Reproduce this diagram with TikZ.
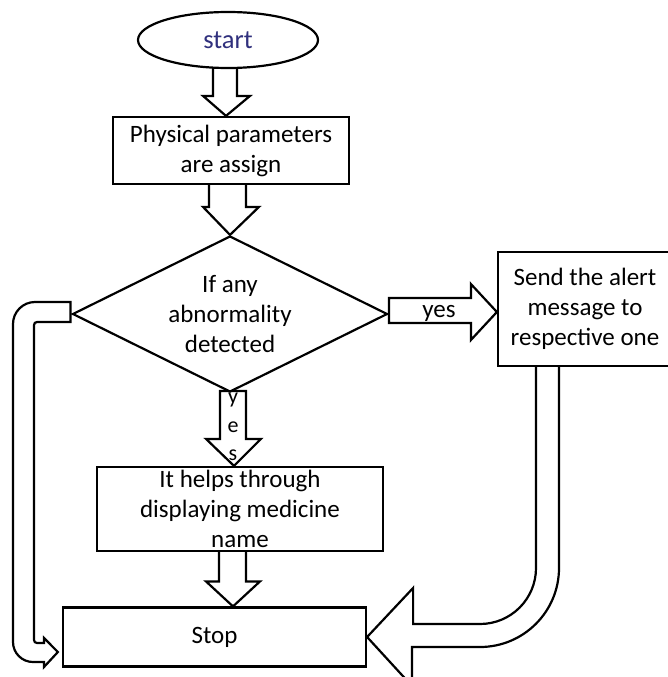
\documentclass[tikz,border=0pt]{standalone}
\usepackage{fontspec}
\setmainfont{Carlito}
\usetikzlibrary{shapes.geometric,calc}
\pgfdeclarelayer{bg}
\pgfsetlayers{bg,main}
\definecolor{startblue}{RGB}{48,48,125}
\tikzset{
  every picture/.style={x=1pt,y=1pt},
  boxnode/.style={draw=black,line width=2.2pt,fill=white,inner sep=0pt,align=center,
    font=\fontsize{25}{30}\selectfont},
  blk/.style={draw=black,line width=2.2pt,fill=white,line join=miter},
  lbl/.style={inner sep=0pt,font=\fontsize{25}{30}\selectfont},
}
\begin{document}
\begin{tikzpicture}[x=1pt,y=1pt]
\useasboundingbox (0,0) rectangle (668,-677);
% nodes
\node[boxnode,ellipse,minimum width=180,minimum height=56,text=startblue,
  font=\fontsize{26.5}{30}\selectfont] (start) at (228,-40) {start};
\node[boxnode,minimum width=236,minimum height=67] (params) at (231,-150.5)
  {Physical parameters\\are assign};
\node[boxnode,diamond,aspect=2,minimum width=315,minimum height=156] (decision) at (230,-314)
  {If any\\abnormality\\detected};
\node[boxnode,minimum width=174,minimum height=114] (alert) at (585,-309)
  {Send the alert\\message to\\respective one};
\node[boxnode,minimum width=286,minimum height=84] (help) at (240,-509)
  {It helps through\\displaying medicine\\name};
\node[boxnode,minimum width=303,minimum height=59] (stop) at (214.5,-637) {Stop};
% block arrows behind the nodes
\begin{pgfonlayer}{bg}
% start -> params
\draw[blk] ($(params.north)+(-5,0)$) coordinate (t1) -- ++(-23,20) -- ++(10,0) -- ++(0,37)
  -- ++(24,0) -- ++(0,-37) -- ++(13,0) -- cycle;
% params -> decision
\draw[blk] (decision.north) -- ++(-27,28) -- ++(6,0) -- ++(0,30) -- ++(37,0)
  -- ++(0,-30) -- ++(13,0) -- cycle;
% decision -> alert (yes)
\draw[blk] ($(alert.west)+(0,-3)$) coordinate (t3) -- ++(-26,28) -- ++(0,-14) -- ++(-82,0)
  -- ++(0,-25) -- ++(82,0) -- ++(0,-17) -- cycle;
% decision -> help (y e s)
\draw[blk] ($(help.north)+(-6,0)$) coordinate (t4) -- ++(-28,27) -- ++(14,0) -- ++(0,48)
  -- ++(26,0) -- ++(0,-48) -- ++(15,0) -- cycle;
% help -> stop
\draw[blk] ($(stop.north)+(18.5,0)$) coordinate (t5) -- ++(-27,25) -- ++(13,0) -- ++(0,37)
  -- ++(27,0) -- ++(0,-37) -- ++(14,0) -- cycle;
% alert -> stop (bent)
\draw[blk] (stop.east) -- ++(46,49) -- ++(0,-36) -- (480,-624)
  arc[start angle=-90,end angle=0,radius=56] -- ($(alert.south)+(-49,6)$)
  -- ($(alert.south)+(-26,6)$) -- (559,-568)
  arc[start angle=0,end angle=-90,radius=79] -- (412,-647) -- (412,-686) -- cycle;
% decision -> stop (left loop)
\draw[blk] ($(decision.west)+(-1,12)$) -- (35,-302)
  arc[start angle=90,end angle=180,radius=22] -- (13,-642)
  arc[start angle=180,end angle=270,radius=20] -- (44,-662) -- (44,-667)
  -- ($(stop.west)+(-4,-15)$) -- (44,-638) -- (44,-643) -- (37,-643)
  arc[start angle=270,end angle=180,radius=3] -- (34,-325)
  arc[start angle=180,end angle=90,radius=3] -- ($(decision.west)+(-1,-8)$) -- cycle;
\end{pgfonlayer}
% labels on arrows
\node[lbl] (yeslbl) at (439,-313) {yes};
\node[lbl,font=\fontsize{22}{26}\selectfont] (ly) at (233,-400) {y};
\node[lbl,font=\fontsize{22}{26}\selectfont] (le) at (233,-427) {e};
\node[lbl,font=\fontsize{22}{26}\selectfont] (ls) at (233,-455) {s};
\end{tikzpicture}
\end{document}
